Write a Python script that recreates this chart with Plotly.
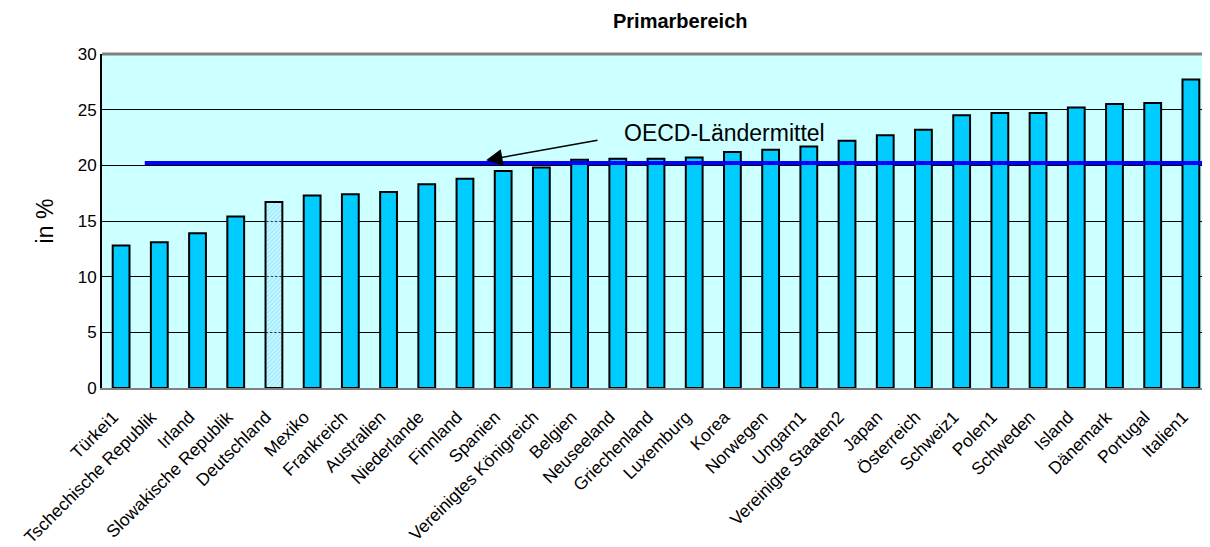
import plotly.graph_objects as go

countries = ["Türkei1", "Tschechische Republik", "Irland", "Slowakische Republik", "Deutschland",
             "Mexiko", "Frankreich", "Australien", "Niederlande", "Finnland", "Spanien",
             "Vereinigtes Königreich", "Belgien", "Neuseeland", "Griechenland", "Luxemburg",
             "Korea", "Norwegen", "Ungarn1", "Vereinigte Staaten2", "Japan", "Österreich",
             "Schweiz1", "Polen1", "Schweden", "Island", "Dänemark", "Portugal", "Italien1"]
values = [12.8, 13.1, 13.9, 15.4, 16.7, 17.3, 17.4, 17.6, 18.3, 18.8, 19.5,
          19.8, 20.5, 20.6, 20.6, 20.7, 21.2, 21.4, 21.7, 22.2, 22.7, 23.2,
          24.5, 24.7, 24.7, 25.2, 25.5, 25.6, 27.7]
oecd_mean = 20.2
highlight = "Deutschland"
y_ticks = [0, 5, 10, 15, 20, 25, 30]

# page has an 8px body margin; figure origin at (8, 8) in the window
OFF = 8
W, H = 1202, 539
L, R, T, B = 94, 0, 46, 159
plot_w = W - L - R
plot_h = H - T - B
n = len(countries)

colors = ["#A8E8FF" if c == highlight else "#00CCFF" for c in countries]
shapes = ["/" if c == highlight else "" for c in countries]
fgcols = ["#00BFFF"] * n
bgcols = ["#D6F6FF" if c == highlight else "#00CCFF" for c in countries]

fig = go.Figure()
fig.add_trace(go.Bar(
    x=countries, y=values,
    marker=dict(color=colors, line=dict(color="#000000", width=2),
                pattern=dict(shape=shapes, fgcolor=fgcols, bgcolor=bgcols, fgopacity=1,
                             size=3, solidity=0.6, fillmode="replace")),
    width=0.44, showlegend=False,
))

fig.add_shape(type="line", xref="x", yref="y", x0=0.62, x1=n - 0.5,
              y0=oecd_mean, y1=oecd_mean, line=dict(color="#0000FF", width=4), layer="above")

def px_x(idx):
    return OFF + L + (idx + 0.5) * plot_w / n

def px_y(v):
    return OFF + T + (30 - v) / 30 * plot_h

head_idx = 9.55
head_y = 20.45
fig.add_annotation(x=head_idx, y=head_y, xref="x", yref="y",
                   ax=599 - px_x(head_idx), ay=140 - px_y(head_y),
                   text="", showarrow=True, arrowhead=2, arrowsize=2.2, arrowwidth=1.5,
                   arrowcolor="#000000")
fig.add_annotation(x=(622 - OFF - L) / plot_w, y=1 - (133 - OFF - T) / plot_h,
                   xref="paper", yref="paper", text="OECD-Ländermittel",
                   showarrow=False, font=dict(size=23, color="#000000"),
                   xanchor="left", yanchor="middle")
fig.add_annotation(text="<b>Primarbereich</b>", x=(680 - OFF - L) / plot_w, y=1,
                   xref="paper", yref="paper", yanchor="middle", yshift=33,
                   showarrow=False, font=dict(size=20))

fig.update_layout(
    width=W, height=H,
    margin=dict(l=L, r=R, t=T, b=B),
    paper_bgcolor="#FFFFFF", plot_bgcolor="#CCFFFF",
    font=dict(family="Liberation Sans, Arial, sans-serif", color="#000000"),
    bargap=0.56,
    xaxis=dict(type="category", tickangle=-45, tickfont=dict(size=17.5),
               ticklabelstandoff=10, ticklabelshift=-8,
               showline=True, linecolor="#808080", linewidth=2, ticks="",
               range=[-0.5, n - 0.5], showgrid=False, automargin=False),
    yaxis=dict(range=[0, 30], tickvals=y_ticks, tickfont=dict(size=17),
               showgrid=True, gridcolor="#000000", gridwidth=1,
               showline=True, linecolor="#000000", linewidth=2, ticks="",
               zeroline=False, automargin=False,
               title=dict(text="in %", font=dict(size=23), standoff=18)),
)

fig.add_shape(type="line", xref="paper", yref="paper", x0=0, x1=1, y0=1, y1=1,
              line=dict(color="#808080", width=3))

fig.write_html("out.html")
